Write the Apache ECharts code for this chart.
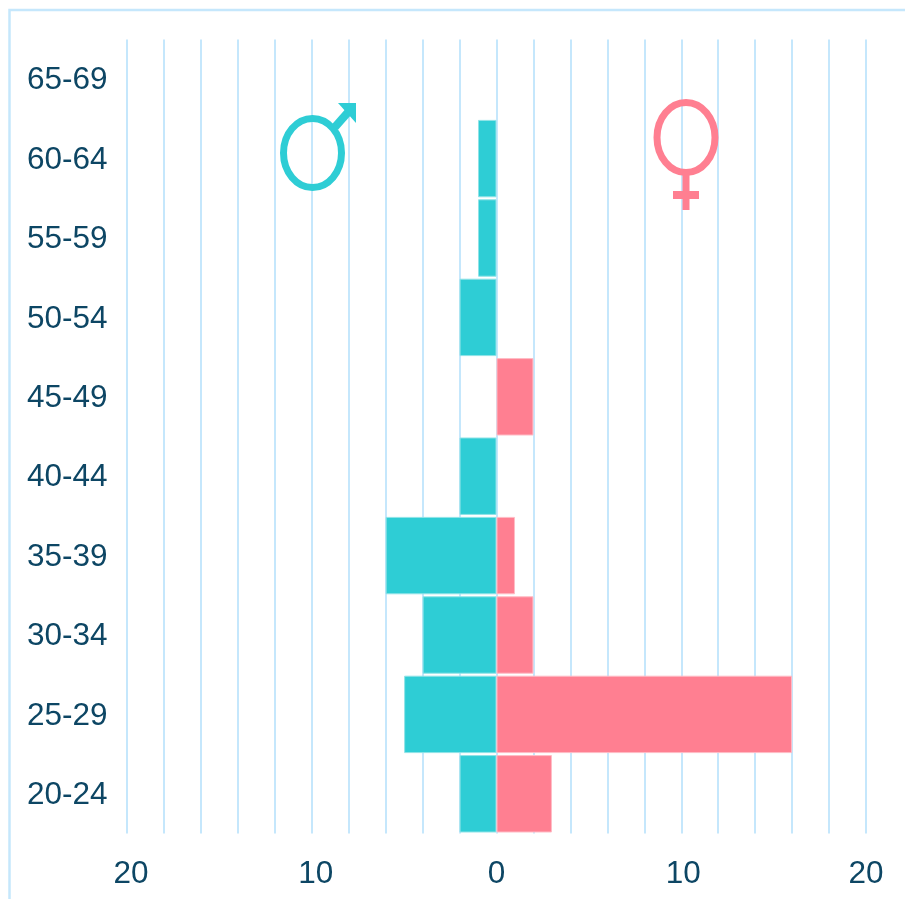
<!DOCTYPE html>
<html>
<head>
<meta charset="utf-8">
<style>
  html, body { margin: 0; padding: 0; background: #fff; }
  #chart { width: 905px; height: 899px; }
</style>
<script src="https://cdn.jsdelivr.net/npm/echarts@6/dist/echarts.min.js"></script>
</head>
<body>
<div id="chart"></div>
<script>
const ageGroups = ['20-24', '25-29', '30-34', '35-39', '40-44', '45-49', '50-54', '55-59', '60-64', '65-69']
const maleCounts = [2, 5, 4, 6, 2, 0, 2, 1, 1, 0]
const femaleCounts = [3, 16, 2, 1, 0, 2, 0, 0, 0, 0]

const lineColor = '#c5e7fc'
const textColor = '#0d4664'
const maleColor = '#2ecdd5'
const femaleColor = '#ff7f91'

const chart = echarts.init(document.getElementById('chart'), null, { renderer: 'canvas' })

// pale edge round each bar, same as the reference
const barStyle = (color, edge) => ({ color, borderColor: edge, borderWidth: 1 })

const labelFont = { fontSize: 31.5, color: textColor, fontFamily: 'Liberation Sans' }

const option = {
  animation: false,
  backgroundColor: '#fff',
  grid: { left: 127, right: 39, top: 39.5, height: 794 },
  xAxis: {
    type: 'value',
    min: -20,
    max: 20,
    interval: 2,
    axisLine: { show: false },
    axisTick: { show: false },
    splitLine: { show: true, lineStyle: { color: lineColor, width: 2 } },
    axisLabel: {
      margin: 25,
      ...labelFont,
      // the labels sit a little right of their lines on the left half
      formatter: v => {
        if (v % 10 !== 0) return ''
        const name = v < 0 ? 'left' : v === 10 ? 'mid' : 'plain'
        return '{' + name + '|' + Math.abs(v) + '}'
      },
      rich: {
        left: { padding: [0, 0, 0, 8], ...labelFont },
        mid: { padding: [0, 0, 0, 4], ...labelFont },
        plain: labelFont
      }
    }
  },
  yAxis: {
    type: 'category',
    data: ageGroups,
    axisLine: { show: false },
    axisTick: { show: false },
    axisLabel: {
      margin: 100,
      align: 'left',
      ...labelFont,
      formatter: v => '{age|' + v + '}',
      rich: {
        age: { padding: [3, 0, 0, 0], ...labelFont }
      }
    }
  },
  series: [
    {
      name: 'Male',
      type: 'bar',
      stack: 'people',
      barWidth: '97.5%',
      itemStyle: barStyle(maleColor, '#8fe3e7'),
      data: maleCounts.map(v => (v ? -v : null))
    },
    {
      name: 'Female',
      type: 'bar',
      stack: 'people',
      barWidth: '97.5%',
      itemStyle: barStyle(femaleColor, '#ffbcc5'),
      data: femaleCounts.map(v => (v ? v : null))
    }
  ],
  // frame and the two gender signs
  graphic: [
    { type: 'polyline', z: 100, shape: { points: [[9.5, 899], [9.5, 10], [905, 10]] }, style: { stroke: lineColor, lineWidth: 2.5, fill: null } },

    { type: 'ellipse', z: 100, shape: { cx: 312.5, cy: 153, rx: 29, ry: 34.5 }, style: { stroke: maleColor, lineWidth: 7, fill: null } },
    { type: 'line', z: 100, shape: { x1: 335, y1: 127, x2: 350, y2: 110 }, style: { stroke: maleColor, lineWidth: 8 } },
    { type: 'polygon', z: 100, shape: { points: [[338, 103], [356, 103], [356, 123]] }, style: { fill: maleColor } },

    { type: 'ellipse', z: 100, shape: { cx: 686, cy: 137.5, rx: 29, ry: 35 }, style: { stroke: femaleColor, lineWidth: 7, fill: null } },
    { type: 'line', z: 100, shape: { x1: 686, y1: 175, x2: 686, y2: 210 }, style: { stroke: femaleColor, lineWidth: 7 } },
    { type: 'line', z: 100, shape: { x1: 673, y1: 195, x2: 699, y2: 195 }, style: { stroke: femaleColor, lineWidth: 8 } }
  ]
}

chart.setOption(option)
</script>
</body>
</html>
